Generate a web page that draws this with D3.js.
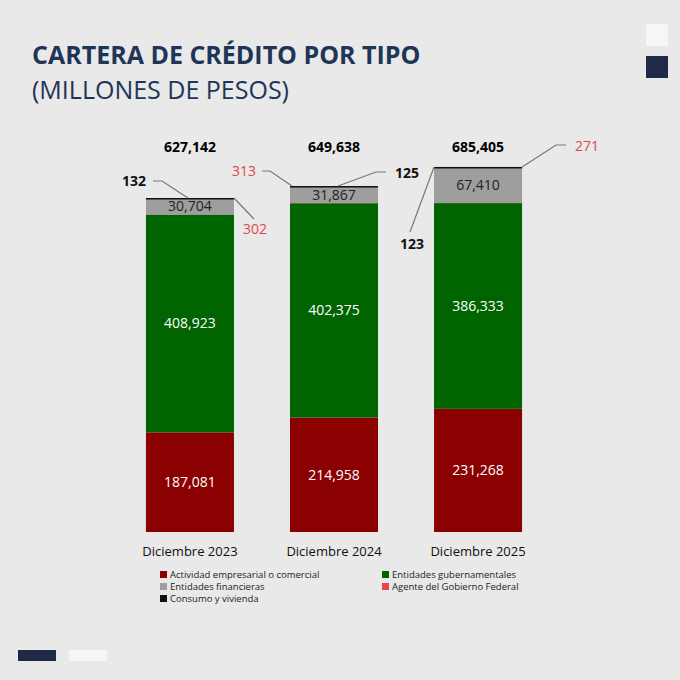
<!DOCTYPE html>
<html><head><meta charset="utf-8">
<script src="https://cdn.jsdelivr.net/npm/d3@7"></script>
<style>body{margin:0;background:#e9e9e9}svg{display:block;font-family:"Open Sans",sans-serif}</style>
</head><body><svg id="c" width="680" height="680"></svg>
<script>
const years = ["Diciembre 2023", "Diciembre 2024", "Diciembre 2025"];
const empresarial = [187081, 214958, 231268];
const gubernamentales = [408923, 402375, 386333];
const agente = [302, 313, 271];
const financieras = [30704, 31867, 67410];
const consumo = [132, 125, 123];
const totals = [627142, 649638, 685405];
const seriesNames = ["Actividad empresarial o comercial", "Entidades gubernamentales", "Agente del Gobierno Federal", "Entidades financieras", "Consumo y vivienda"];
const colors = ["#8b0000", "#006400", "#e8474c", "#9e9e9e", "#111"];

const svg = d3.select("#c");
svg.append("rect").attr("width", 680).attr("height", 680).attr("fill", "#e9e9e9");
svg.append("text").attr("x", 32).attr("y", 64).attr("font-size", 25).attr("font-weight", 700)
  .attr("fill", "#1f3557").text("CARTERA DE CRÉDITO POR TIPO");
svg.append("text").attr("x", 32).attr("y", 99).attr("font-size", 25)
  .attr("fill", "#1f3557").text("(MILLONES DE PESOS)");
svg.append("rect").attr("x", 646).attr("y", 24).attr("width", 22).attr("height", 22).attr("fill", "#f6f6f6");
svg.append("rect").attr("x", 646).attr("y", 56).attr("width", 22).attr("height", 22).attr("fill", "#1f2a48");
svg.append("rect").attr("x", 18).attr("y", 650).attr("width", 38).attr("height", 11).attr("fill", "#1f2a48");
svg.append("rect").attr("x", 69).attr("y", 650).attr("width", 38).attr("height", 11).attr("fill", "#f6f6f6");

const x = d3.scaleBand().domain(years).range([118, 550]).paddingInner(0.389).paddingOuter(0.194);
const y = d3.scaleLinear().domain([0, 627142]).range([532, 198]);
const data = years.map((yr, i) => ({ yr, v: [empresarial[i], gubernamentales[i], agente[i], financieras[i], consumo[i]] }));
const stack = d3.stack().keys([0, 1, 2, 3, 4]).value((d, k) => d.v[k]);
const layers = stack(data);

layers.forEach((layer, k) => {
  svg.append("g").selectAll("rect").data(layer).join("rect")
    .attr("x", d => x(d.data.yr)).attr("width", x.bandwidth())
    .attr("y", d => y(d[1])).attr("height", d => Math.max(y(d[0]) - y(d[1]), k === 4 ? 1.5 : 0))
    .attr("fill", colors[k]);
});
[0, 1, 3].forEach(k => {
  svg.append("g").selectAll("text").data(layers[k]).join("text")
    .attr("x", d => x(d.data.yr) + x.bandwidth() / 2).attr("y", d => (y(d[0]) + y(d[1])) / 2 + 5)
    .attr("text-anchor", "middle").attr("font-size", 14)
    .attr("fill", k === 3 ? "#222" : "#fff").text(d => d3.format(",")(d.data.v[k]));
});
svg.append("g").selectAll("text").data(years).join("text")
  .attr("x", d => x(d) + x.bandwidth() / 2).attr("y", 152).attr("text-anchor", "middle")
  .attr("font-size", 14).attr("font-weight", 700).text((d, i) => d3.format(",")(totals[i]));
svg.append("g").selectAll("text").data(years).join("text")
  .attr("x", d => x(d) + x.bandwidth() / 2).attr("y", 556).attr("text-anchor", "middle")
  .attr("font-size", 13).attr("fill", "#111").text(d => d);

// callouts
const fmt = d3.format(",");
const barTop = i => y(totals[i]);
const L = i => x(years[i]), R = i => x(years[i]) + x.bandwidth();
const callouts = [
  { t: consumo[0], c: "#111", b: true, tx: 134, ty: 186, a: "middle", pts: [[153, 181], [162, 181], [L(0) + 42, barTop(0)]] },
  { t: agente[0], c: "#e04848", b: false, tx: 243, ty: 234, a: "start", pts: [[R(0), barTop(0)], [254, 219]] },
  { t: agente[1], c: "#e04848", b: false, tx: 256, ty: 176, a: "end", pts: [[262, 171], [270, 171], [L(1) + 2, barTop(1)]] },
  { t: consumo[1], c: "#111", b: true, tx: 395, ty: 178, a: "start", pts: [[386, 172], [376, 172], [L(1) + 48, barTop(1)]] },
  { t: agente[2], c: "#e04848", b: false, tx: 575, ty: 151, a: "start", pts: [[566, 145], [556, 145], [R(2), barTop(2)]] },
  { t: consumo[2], c: "#111", b: true, tx: 412, ty: 249, a: "middle", pts: [[410, 232], [L(2), barTop(2)]] }
];
callouts.forEach(o => {
  svg.append("path").attr("d", d3.line()(o.pts)).attr("fill", "none").attr("stroke", "#777").attr("stroke-width", 1.2);
  svg.append("text").attr("x", o.tx).attr("y", o.ty).attr("text-anchor", o.a).attr("font-size", 14)
    .attr("font-weight", o.b ? 700 : 400).attr("fill", o.c).text(fmt(o.t));
});

// legend
const leg = [[0, 160, 578], [1, 382, 578], [3, 160, 590], [2, 382, 590], [4, 160, 602]];
leg.forEach(([k, lx, ly]) => {
  svg.append("rect").attr("x", lx).attr("y", ly - 7).attr("width", 7).attr("height", 7).attr("fill", colors[k]);
  svg.append("text").attr("x", lx + 10).attr("y", ly).attr("font-size", 9.5).attr("fill", "#222").text(seriesNames[k]);
});
</script></body></html>
